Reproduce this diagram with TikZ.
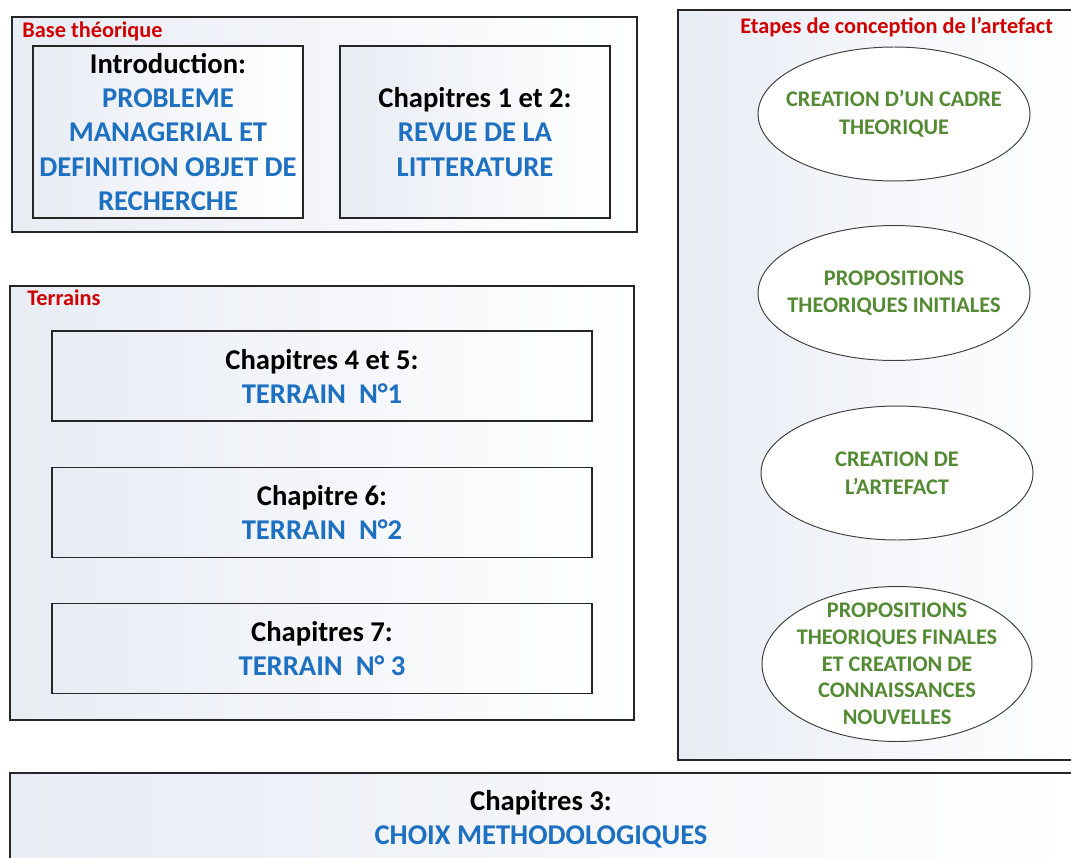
\documentclass[tikz,border=0pt]{standalone}
\usepackage{fontspec}
\setmainfont{Carlito}
\usepackage{tikz}
\usetikzlibrary{positioning,shapes.geometric}
\definecolor{titrebleu}{RGB}{30,112,192}
\definecolor{etapevert}{RGB}{84,138,52}
\definecolor{rubrique}{RGB}{208,0,0}
\definecolor{fondgris}{RGB}{232,236,244}

\begin{document}
\begin{tikzpicture}[x=0.02cm,y=-0.02cm,text centered,align=center,inner sep=0pt]
            \tikzstyle{cadre}=[draw=black!85,line width=0.8pt,left color=fondgris,right color=white]
            \tikzstyle{box}=[cadre,font=\bfseries\fontsize{16.3}{19.4}\selectfont]
            \tikzstyle{etape}=[draw=black!75,line width=0.55pt,ellipse,fill=white,text=etapevert,inner sep=-10pt,
                minimum width=5.44cm,font=\bfseries\fontsize{12.7}{15.8}\selectfont]
            \tikzstyle{rubr}=[anchor=west,text=rubrique,font=\bfseries\fontsize{12.7}{14}\selectfont]
            \clip (0,0) rectangle (1071,858);
            % grands cadres
            \node[cadre,minimum width=12.5cm,minimum height=4.3cm] (base) at (324.5,124.5) {};
            \node[cadre,minimum width=12.48cm,minimum height=8.68cm] (terr) at (322,503) {};
            \node[cadre,minimum width=7.98cm,minimum height=15cm] (art) at (877.5,385) {};
            \node[rubr] (lbase) at (22,31) {Base théorique};
            \node[rubr] (lterr) at (27,298) {Terrains};
            \node[rubr] (lart) at (740,27) {Etapes de conception de l’artefact};

            % base theorique
            \node[box,minimum width=5.4cm,minimum height=3.44cm] (intro) at (168,132)
                {Introduction:\\ \color{titrebleu}PROBLEME\\ \color{titrebleu}MANAGERIAL ET\\
                 \color{titrebleu}DEFINITION OBJET DE\\ \color{titrebleu}RECHERCHE};
            \node[box,minimum width=5.4cm,minimum height=3.44cm] (revue) at (475,132)
                {Chapitres 1 et 2:\\ \color{titrebleu}REVUE DE LA\\ \color{titrebleu}LITTERATURE};

            % terrains
            \node[box,minimum width=10.8cm,minimum height=1.8cm] (t1) at (322,376)
                {Chapitres 4 et 5:\\ \color{titrebleu}TERRAIN~~N°1};
            \node[box,minimum width=10.8cm,minimum height=1.8cm,below=0.9cm of t1] (t2)
                {Chapitre 6:\\ \color{titrebleu}TERRAIN~~N°2};
            \node[box,minimum width=10.8cm,minimum height=1.8cm,below=0.9cm of t2] (t3)
                {Chapitres 7:\\ \color{titrebleu}TERRAIN~~N° 3};

            % etapes
            \node[etape,minimum height=2.68cm] (e1) at (894,114) {CREATION D’UN CADRE\\ THEORIQUE};
            \node[etape,minimum height=2.7cm] (e2) at (894,293) {PROPOSITIONS\\ THEORIQUES INITIALES};
            \node[etape,minimum height=2.68cm] (e3) at (897,473) {CREATION DE\\ L’ARTEFACT};
            \node[etape,minimum width=5.4cm,minimum height=3.1cm,font=\bfseries\fontsize{12.7}{15.2}\selectfont] (e4) at (897,664)
                {PROPOSITIONS\\ THEORIQUES FINALES\\ ET CREATION DE\\ CONNAISSANCES\\ NOUVELLES};

            % methodologie
            \node[box,minimum width=21.3cm,minimum height=2.14cm] (meth) at (542.5,826.5) {};
            \node[font=\bfseries\fontsize{16.3}{19.4}\selectfont] (methtxt) at (541,819.5)
                {Chapitres 3:\\ \color{titrebleu}CHOIX METHODOLOGIQUES};
        \end{tikzpicture}
\end{document}
